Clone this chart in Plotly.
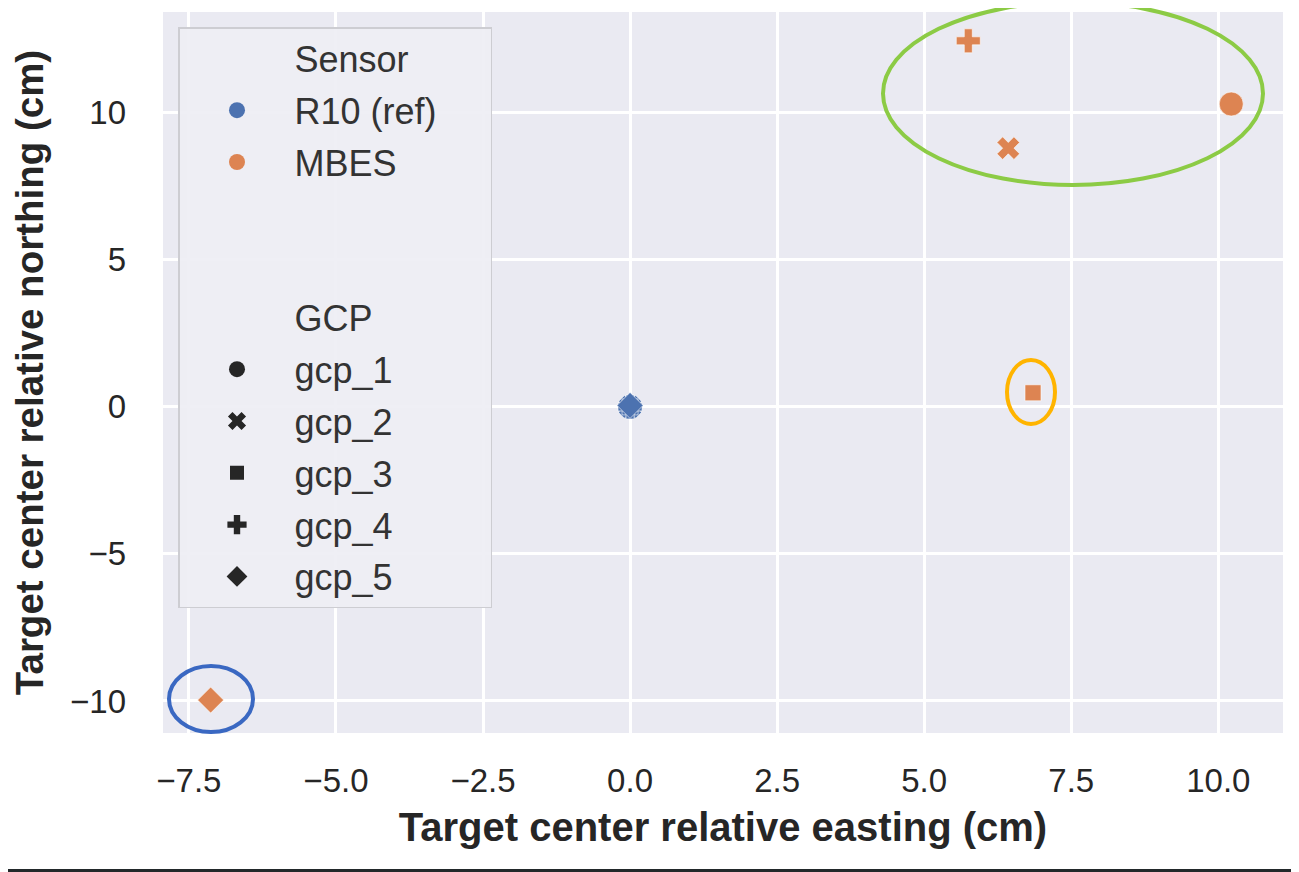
import plotly.graph_objects as go

# ---- data ----
gcps = ["gcp_1", "gcp_2", "gcp_3", "gcp_4", "gcp_5"]
r10_easting = [0.0, 0.0, 0.0, 0.0, 0.0]
r10_northing = [0.0, 0.0, 0.0, 0.0, 0.05]
mbes_easting = [10.22, 6.43, 6.85, 5.75, -7.13]
mbes_northing = [10.3, 8.8, 0.48, 12.45, -9.97]
sensors = ["R10 (ref)", "MBES"]
x_ticks = [-7.5, -5.0, -2.5, 0.0, 2.5, 5.0, 7.5, 10.0]
y_ticks = [-10, -5, 0, 5, 10]

# ---- style ----
colors = {"R10 (ref)": "#4C72B0", "MBES": "#DD8452"}
symbols = {"gcp_1": "circle", "gcp_2": "x", "gcp_3": "square", "gcp_4": "cross", "gcp_5": "diamond"}
sizes = {"gcp_1": 24, "gcp_2": 20, "gcp_3": 16, "gcp_4": 20, "gcp_5": 20}
FONT = "Liberation Sans, Arial, sans-serif"
TXT = "#262626"

fig = go.Figure()

for sensor, xs, ys in [("MBES", mbes_easting, mbes_northing), ("R10 (ref)", r10_easting, r10_northing)]:
    fig.add_trace(go.Scatter(
        x=xs, y=ys, mode="markers", showlegend=False, hoverinfo="skip",
        marker=dict(color=colors[sensor], symbol=[symbols[g] for g in gcps], opacity=1,
                    size=[sizes[g] for g in gcps], line=dict(color="white", width=0.6)),
    ))

# legend entries (seaborn-style with sub-titles)
def legend_entry(name, color="rgba(0,0,0,0)", symbol="circle", size=14, group=None):
    fig.add_trace(go.Scatter(
        x=[None], y=[None], mode="markers", name=name, legendgroup=group or name,
        marker=dict(color=color, symbol=symbol, size=size, opacity=1, line=dict(width=0)),
    ))

legend_entry("Sensor")
for s in sensors:
    legend_entry(s, colors[s], "circle", 20)
legend_entry("\u00a0" * 19, group="blank1")
legend_entry("\u00a0", group="blank2")
legend_entry("GCP")
for g in gcps:
    legend_entry(g, "#262626", symbols[g], {"gcp_1": 20, "gcp_2": 17, "gcp_3": 14, "gcp_4": 17, "gcp_5": 17}[g])

# page body has an 8px margin: figure origin sits at screen (8, 8)
OFF = 8
# plot area in screen pixels
L, R, T, B = 163, 1283, 12, 733
W, H = 1299 - OFF, 872 - OFF
def px(x):
    return (x - L) / (R - L)
def py(y):
    return (B - y) / (B - T)

ellipses = [
    (883, 2, 1263, 185, "#8CCB45", 4),
    (1007, 360, 1055, 424, "#FFB400", 4),
    (169, 666, 253, 732, "#3A68C2", 4),
]
for x0, y0, x1, y1, c, w in ellipses:
    fig.add_shape(type="circle", xref="paper", yref="paper",
                  x0=px(x0), x1=px(x1), y0=py(y1), y1=py(y0),
                  line=dict(color=c, width=w), layer="above")

# thin dark line at the bottom of the image
fig.add_shape(type="rect", xref="paper", yref="paper",
              x0=px(OFF), x1=px(1299), y0=py(872), y1=py(869),
              line=dict(width=0), fillcolor="#22282a", layer="above")

fig.update_layout(
    width=W, height=H,
    margin=dict(l=L - OFF, r=W - (R - OFF), t=T - OFF, b=H - (B - OFF)),
    paper_bgcolor="white", plot_bgcolor="#EAEAF2",
    font=dict(family=FONT, size=33, color=TXT),
    showlegend=True,
    legend=dict(
        x=px(178), y=py(27), xanchor="left", yanchor="top",
        bgcolor="rgba(238,238,244,0.92)", bordercolor="#CDCDD2", borderwidth=1.5,
        font=dict(family=FONT, size=36, color="#333333"),
        tracegroupgap=2, itemsizing="trace", itemwidth=105,
    ),
    xaxis=dict(
        range=[-7.94, 11.1], tickvals=x_ticks, ticktext=[f"{v:.1f}".replace("-", "\u2212") for v in x_ticks],
        showgrid=True, gridcolor="white", gridwidth=2.5, zeroline=False, showline=False,
        ticks="", ticklabelstandoff=25, automargin=False, tickfont=dict(size=33),
        title=dict(text="<b>Target center relative easting (cm)</b>", font=dict(size=40, color=TXT), standoff=14),
    ),
    yaxis=dict(
        range=[-11.09, 13.43], tickvals=y_ticks, ticktext=[str(v).replace("-", "\u2212") for v in y_ticks],
        showgrid=True, gridcolor="white", gridwidth=2.5, zeroline=False, showline=False,
        ticks="", ticklabelstandoff=36, automargin=False, tickfont=dict(size=33),
        title=dict(text="<b>Target center relative northing (cm)</b>", font=dict(size=38.5, color=TXT), standoff=18),
    ),
)

fig.write_html("out.html")
